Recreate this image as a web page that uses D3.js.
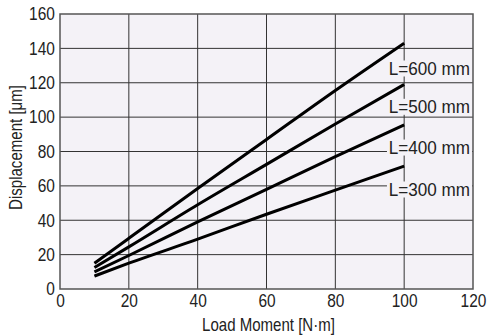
<!DOCTYPE html>
<html>
<head>
<meta charset="utf-8">
<script src="https://cdn.jsdelivr.net/npm/d3@7"></script>
<style>
  body { margin: 0; background: #fff; }
  text { font-family: "Liberation Sans", Arial, Helvetica, sans-serif; fill: #222; }
</style>
</head>
<body>
<div id="chart"></div>
<script>
// load moment values (N·m)
var moments = [10, 20, 40, 60, 80, 100];
// displacement (µm) per arm length
var disp600 = [15, 29.5, 58.5, 87, 115.5, 143];
var disp500 = [12.5, 24.5, 49, 72.5, 96, 119];
var disp400 = [10, 19.5, 39, 58, 77, 95.5];
var disp300 = [7.5, 15, 29, 43.5, 57.5, 71.5];
var seriesNames = ["L=600 mm", "L=500 mm", "L=400 mm", "L=300 mm"];
var xTicks = [0, 20, 40, 60, 80, 100, 120];
var yTicks = [0, 20, 40, 60, 80, 100, 120, 140, 160];

var squeeze = "scale(0.86,1)"; // condensed look of the original type

var margin = {top: 14, right: 15, bottom: 47, left: 60},
    width = 488 - margin.left - margin.right,
    height = 336 - margin.top - margin.bottom;

var svg = d3.select("#chart")
  .append("svg")
  .attr("width", 488)
  .attr("height", 336)
  .append("g")
  .attr("transform", "translate(" + margin.left + "," + margin.top + ")");

var x = d3.scaleLinear().domain([0, 120]).range([0, width]);
var y = d3.scaleLinear().domain([0, 160]).range([height, 0]);

// plot background
svg.append("rect")
  .attr("width", width)
  .attr("height", height)
  .attr("fill", "#f4f2f7");

// grid
svg.append("g")
  .selectAll("line")
  .data(xTicks.slice(1, -1))
  .join("line")
  .attr("x1", d => x(d)).attr("x2", d => x(d))
  .attr("y1", 0).attr("y2", height)
  .attr("stroke", "#333").attr("stroke-width", 1);

svg.append("g")
  .selectAll("line")
  .data(yTicks.slice(1, -1))
  .join("line")
  .attr("x1", 0).attr("x2", width)
  .attr("y1", d => y(d)).attr("y2", d => y(d))
  .attr("stroke", "#333").attr("stroke-width", 1);

// label boxes cover the grid
var labelY = [128.3, 106, 82.3, 57.9]; // value position of each label (in data units)
var labels = svg.append("g");
seriesNames.forEach(function(name, i) {
  var cy = y(labelY[i]);
  labels.append("rect")
    .attr("x", x(95))
    .attr("y", cy - 8)
    .attr("width", width - x(95) - 1)
    .attr("height", 16)
    .attr("fill", "#f4f2f7");
  labels.append("g")
    .attr("transform", "translate(" + (width - 3) + "," + (cy + 6.5) + ")")
    .append("text")
    .attr("transform", "scale(0.95,1)")
    .attr("text-anchor", "end")
    .attr("font-size", 18)
    .text(name);
});

// curves
var series = [disp600, disp500, disp400, disp300];
var line = d3.line()
  .x((d, i) => x(moments[i]))
  .y(d => y(d))
  .curve(d3.curveMonotoneX);

svg.append("g")
  .selectAll("path")
  .data(series)
  .join("path")
  .attr("d", line)
  .attr("fill", "none")
  .attr("stroke", "#000")
  .attr("stroke-width", 3);

// frame
svg.append("rect")
  .attr("width", width)
  .attr("height", height)
  .attr("fill", "none")
  .attr("stroke", "#555")
  .attr("stroke-width", 1.5);

// axes
var xAxis = svg.append("g")
  .attr("transform", "translate(0," + height + ")")
  .call(d3.axisBottom(x).tickValues(xTicks).tickSize(0).tickPadding(5));
var yAxis = svg.append("g")
  .call(d3.axisLeft(y).tickValues(yTicks).tickSize(0).tickPadding(6));
[xAxis, yAxis].forEach(function(a) {
  a.select(".domain").remove();
  a.selectAll("text")
    .attr("font-size", 18)
    .attr("font-family", "'Liberation Sans', Arial, Helvetica, sans-serif")
    .attr("fill", "#222")
    .attr("transform", squeeze);
});

svg.append("g")
  .attr("transform", "translate(" + (width / 2 + 2) + "," + (height + 42) + ")")
  .append("text")
  .attr("transform", squeeze)
  .attr("text-anchor", "middle")
  .attr("font-size", 17.5)
  .text("Load Moment [N·m]");

svg.append("g")
  .attr("transform", "translate(-38," + (height / 2 - 4) + ") rotate(-90)")
  .append("text")
  .attr("transform", squeeze)
  .attr("text-anchor", "middle")
  .attr("font-size", 17.5)
  .text("Displacement [μm]");
</script>
</body>
</html>
